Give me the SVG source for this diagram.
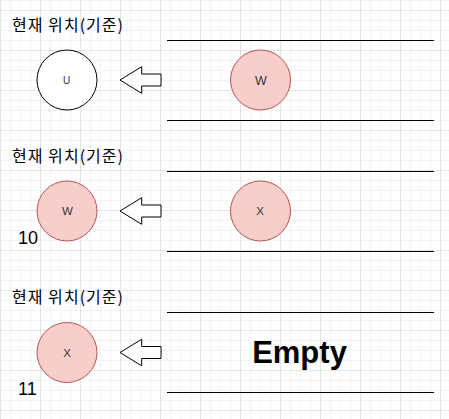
<svg xmlns="http://www.w3.org/2000/svg" width="449" height="419" viewBox="0 0 449 419">
  <defs>
    <pattern id="minor" patternUnits="userSpaceOnUse" x="0" y="0" width="10" height="10">
      <path d="M0.5 0V10M0 0.5H10" stroke="#f3f3f3" stroke-width="1" fill="none"/>
    </pattern>
    <pattern id="major" patternUnits="userSpaceOnUse" x="0" y="10" width="40" height="40">
      <path d="M0.5 0V40M0 0.5H40" stroke="#e3e3e3" stroke-width="1" fill="none"/>
    </pattern>
    <style>
      .title{font-family:"Noto Sans CJK KR","Liberation Sans",sans-serif;font-size:16px;fill:#000}
      .num{font-family:"Liberation Sans",Arial,sans-serif;font-size:18px;fill:#000}
      .lbl{font-family:"Liberation Sans",Arial,sans-serif;font-size:11.5px;fill:#333;text-anchor:middle}
      .big{font-family:"Liberation Sans",Arial,sans-serif;font-size:31px;font-weight:bold;fill:#000;text-anchor:middle}
      .cur{fill:#fff;stroke:#000;stroke-width:1}
      .red{fill:#f8cecc;stroke:#b85450;stroke-width:1}
      .rail{stroke:#000;stroke-width:1;fill:none}
      .arrow{fill:#fff;stroke:#000;stroke-width:1;stroke-linejoin:miter}
    </style>
  </defs>
  <rect width="449" height="419" fill="#fff"/>
  <rect width="449" height="419" fill="url(#minor)"/>
  <rect width="449" height="419" fill="url(#major)"/>

  <!-- Section 1 -->
  <g id="title1"><text class="title" x="12" y="30.5" textLength="111" lengthAdjust="spacing">현재 위치(기준)</text></g>
  <g id="nodeU"><circle class="cur" cx="67" cy="80" r="30"/><text class="lbl" x="66.5" y="84.3" style="font-size:10px">U</text></g>
  <g id="queue1">
    <line class="rail" x1="167" y1="40.5" x2="434" y2="40.5"/>
    <line class="rail" x1="167" y1="120.5" x2="434" y2="120.5"/>
  </g>
  <g id="nodeW1"><circle class="red" cx="260.5" cy="80" r="30"/><text class="lbl" x="261" y="85.3" style="font-size:12.5px">W</text></g>

  <!-- Section 2 -->
  <g id="title2"><text class="title" x="12" y="162" textLength="111" lengthAdjust="spacing">현재 위치(기준)</text></g>
  <g id="nodeW2"><circle class="red" cx="67" cy="211" r="30"/><text class="lbl" x="67.5" y="215.3">W</text></g>
  <g id="num10"><text class="num" x="18" y="244">10</text></g>
  <g id="queue2">
    <line class="rail" x1="167" y1="171.5" x2="434" y2="171.5"/>
    <line class="rail" x1="167" y1="251.5" x2="434" y2="251.5"/>
  </g>
  <g id="nodeX2"><circle class="red" cx="260.5" cy="211" r="30"/><text class="lbl" x="260" y="215.3">X</text></g>

  <!-- Section 3 -->
  <g id="title3"><text class="title" x="12" y="303" textLength="111" lengthAdjust="spacing">현재 위치(기준)</text></g>
  <g id="nodeX3"><circle class="red" cx="67" cy="352.5" r="30"/><text class="lbl" x="67" y="356.8">X</text></g>
  <g id="num11"><text class="num" x="18" y="395">11</text></g>
  <g id="queue3">
    <line class="rail" x1="167" y1="312.5" x2="434" y2="312.5"/>
    <line class="rail" x1="167" y1="392.5" x2="434" y2="392.5"/>
    <text class="big" x="299.5" y="362.7">Empty</text>
  </g>

  <g id="connectors">
    <polygon class="arrow" points="120,80 141.7,66.7 141.7,74 161,74 161,86 141.7,86 141.7,93.3"/>
    <polygon class="arrow" points="120,211 141.7,197.7 141.7,205 161,205 161,217 141.7,217 141.7,224.3"/>
    <polygon class="arrow" points="120,352.5 141.7,339.2 141.7,346.5 161,346.5 161,358.5 141.7,358.5 141.7,365.8"/>
  </g>
</svg>
